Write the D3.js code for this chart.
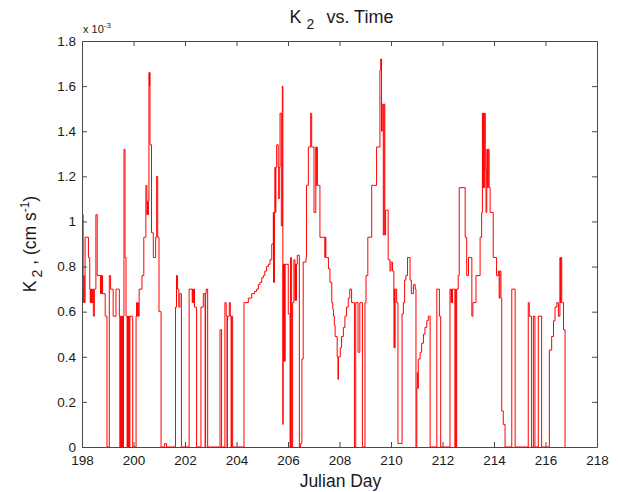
<!DOCTYPE html>
<html><head><meta charset="utf-8">
<script src="https://cdn.jsdelivr.net/npm/d3@7/dist/d3.min.js"></script>
<style>
body{margin:0;background:#fff}
text{font-family:"Liberation Sans",Arial,Helvetica,sans-serif;fill:#1a1a1a}
</style>
</head><body>
<svg id="chart" width="618" height="492"></svg>
<script>
// Julian day of each step
const timeDays = [
198.00,198.01,198.02,198.03,198.04,198.05,198.07,198.09,198.12,198.25,
198.30,198.32,198.34,198.36,198.38,198.40,198.42,198.44,198.48,198.54,
198.59,198.72,198.74,198.76,198.78,198.80,198.90,198.97,199.06,199.11,
199.21,199.32,199.45,199.47,199.49,199.51,199.53,199.55,199.57,199.59,
199.61,199.63,199.67,199.71,199.75,199.77,199.79,199.81,199.84,199.86,
199.97,200.10,200.12,200.14,200.16,200.19,200.22,200.33,200.40,200.48,
200.52,200.54,200.56,200.58,200.60,200.62,200.63,200.64,200.70,200.77,
200.86,200.90,200.94,200.99,201.07,201.20,201.28,201.63,201.67,201.71,
201.76,201.80,201.86,202.16,202.28,202.30,202.32,202.34,202.37,202.45,
202.62,202.71,202.78,202.80,202.82,202.88,203.36,203.42,203.55,203.60,
203.63,203.65,203.72,203.76,203.79,203.81,203.85,204.29,204.46,204.59,
204.70,204.78,204.85,204.91,204.98,205.04,205.10,205.17,205.24,205.30,
205.37,205.43,205.44,205.45,205.46,205.47,205.49,205.51,205.53,205.56,
205.62,205.64,205.66,205.69,205.74,205.78,205.80,205.81,205.83,205.85,
205.87,205.89,206.01,206.08,206.10,206.14,206.18,206.23,206.27,206.29,
206.31,206.33,206.36,206.44,206.49,206.54,206.59,206.70,206.72,206.79,
206.88,206.92,207.01,207.08,207.10,207.12,207.14,207.17,207.24,207.43,
207.45,207.47,207.50,207.57,207.63,207.70,207.74,207.77,207.80,207.83,
207.91,207.94,207.96,208.03,208.08,208.15,208.21,208.27,208.34,208.40,
208.47,208.58,208.63,208.72,208.79,208.89,208.99,209.03,209.10,209.25,
209.38,209.44,209.57,209.60,209.63,209.66,209.70,209.73,209.76,209.79,
209.83,209.89,209.96,210.00,210.06,210.11,210.12,210.13,210.14,210.16,
210.22,210.27,210.43,210.48,210.53,210.58,210.64,210.74,210.79,210.87,
210.94,210.97,211.00,211.02,211.04,211.06,211.13,211.19,211.26,211.32,
211.39,211.45,211.52,211.78,211.88,211.93,212.29,212.33,212.35,212.37,
212.39,212.48,212.51,212.53,212.55,212.61,212.65,212.88,212.94,213.01,
213.14,213.18,213.30,213.46,213.52,213.55,213.57,213.59,213.61,213.64,
213.66,213.69,213.72,213.75,213.78,213.81,213.85,213.97,214.10,214.17,
214.20,214.23,214.27,214.30,214.36,214.43,214.69,214.82,215.33,215.37,
215.46,215.53,215.59,215.72,215.85,216.15,216.24,216.31,216.37,216.44,
216.50,216.56,216.58,216.60,216.63,216.70,216.76
];
// K2 values (x 10^-3 cm s^-1)
const k2Values = [
0.70,1.03,0.70,1.03,0.70,0.64,0.76,0.64,0.93,0.84,
0.70,0.64,0.70,0.64,0.70,0.64,0.70,0.58,0.70,1.03,
0.76,0.68,0.76,0.68,0.76,0.68,0.58,0,0.76,0.70,
0.58,0.70,0.58,0,0.58,0,0.58,0,0.58,0,
0.58,1.32,0.84,0.58,0,0.58,0,0.58,0,0.58,
0,0.58,0.64,0.58,0.64,0.58,0.70,0.76,0.93,1.16,
1.03,1.09,1.03,1.09,1.66,1.60,1.66,1.34,0.95,0.84,
0.93,1.20,0.93,0.60,0,0.015,0,0.62,0.76,0.70,
0.62,0.68,0,0.70,0.64,0.70,0.64,0.70,0.62,0,
0.62,0.68,0,0.68,0.70,0,0.52,0,0.64,0.58,
0,0.58,0.64,0.58,0,0.58,0,0.64,0.66,0.68,
0.69,0.70,0.72,0.73,0.75,0.76,0.78,0.80,0.81,0.83,
0.90,1.04,0.73,1.04,0.73,1.04,1.24,1.04,1.24,1.34,
1.24,1.10,1.24,1.48,0.98,1.60,0.10,0.81,0.38,0.81,
0.38,0.81,0.59,0,0.84,0,0.64,0.83,0.65,0.81,
0.65,0.81,0.85,0,0.015,0.39,0.82,0.84,1.16,1.33,
1.48,1.33,1.04,1.33,1.16,1.33,1.16,1.16,0.93,0.84,
0.93,0.84,0.84,0.79,0.73,0.64,0.61,0.58,0.54,0.49,
0.40,0.30,0.40,0.44,0.49,0.53,0.58,0.62,0.66,0.70,
0.64,0,0.64,0.42,0.64,0,0.64,0.76,0.93,1.16,
1.16,1.33,1.67,1.72,1.40,1.52,0.94,1.52,0.94,1.05,
1.05,0.83,0.78,0.82,0.78,0.64,0.44,0.70,0.44,0.70,
0.64,0.015,0.59,0.64,0.74,0.76,0.84,0.74,0.68,0.72,
0.70,0,0.26,0.33,0.26,0.39,0.42,0.46,0.50,0.53,
0.56,0.58,0,0.70,0.58,0,0.70,0.64,0.70,0.64,
0.70,0,0.70,0,0.70,0.76,1.15,0.93,0.76,0.84,
0.58,0.64,0.76,0.93,1.04,1.48,1.15,1.48,1.15,1.48,
1.23,1.04,1.32,1.15,1.32,1.15,1.04,0.84,0.76,0.78,
0.66,0.78,0.66,0.16,0.10,0,0.70,0,0.64,0.58,
0,0.58,0,0.58,0,0.43,0.49,0.56,0.62,0.64,
0.58,0.84,0.64,0.84,0.64,0.52,0
];
const xTickValues = [198,200,202,204,206,208,210,212,214,216,218];
const yTickValues = [0,0.2,0.4,0.6,0.8,1.0,1.2,1.4,1.6,1.8];
const yTickLabels = ["0","0.2","0.4","0.6","0.8","1","1.2","1.4","1.6","1.8"];

const W = 618, H = 492;
const plot = {left: 82, right: 597, top: 41, bottom: 447};
const svg = d3.select("#chart");

const x = d3.scaleLinear().domain([198, 218]).range([plot.left, plot.right]);
const y = d3.scaleLinear().domain([0, 1.8]).range([plot.bottom, plot.top]);

svg.append("rect").attr("width", W).attr("height", H).attr("fill", "#fff");
svg.append("rect").attr("x", plot.left).attr("y", plot.top)
  .attr("width", plot.right - plot.left).attr("height", plot.bottom - plot.top)
  .attr("fill", "#fff");

svg.append("defs").append("clipPath").attr("id", "clip")
  .append("rect").attr("x", plot.left).attr("y", plot.top - 1)
  .attr("width", plot.right - plot.left).attr("height", plot.bottom - plot.top + 1);

const pts = timeDays.map((d, i) => [d, k2Values[i]]);
const line = d3.line().x(d => x(d[0])).y(d => y(d[1])).curve(d3.curveStepAfter);
svg.append("path").datum(pts)
  .attr("clip-path", "url(#clip)")
  .attr("fill", "none").attr("stroke", "#ff0000").attr("stroke-width", 1)
  .attr("d", line);

const axisColor = "#4a4a4a";
function styleAxis(g) {
  g.selectAll("path.domain").attr("stroke", axisColor).attr("stroke-width", 1);
  g.selectAll(".tick line").attr("stroke", axisColor);
  g.selectAll(".tick text").attr("fill", "#1a1a1a")
    .style("font-family", '"Liberation Sans",Arial,sans-serif').style("font-size", "13.5px");
}
const gx = svg.append("g").attr("transform", `translate(0,${plot.bottom})`)
  .call(d3.axisBottom(x).tickValues(xTickValues).tickFormat(d3.format("d"))
        .tickSizeInner(-5).tickSizeOuter(0).tickPadding(8));
styleAxis(gx);
const gxt = svg.append("g").attr("transform", `translate(0,${plot.top})`)
  .call(d3.axisTop(x).tickValues(xTickValues).tickFormat("").tickSizeInner(-5).tickSizeOuter(0));
styleAxis(gxt);
const gy = svg.append("g").attr("transform", `translate(${plot.left},0)`)
  .call(d3.axisLeft(y).tickValues(yTickValues).tickFormat((d, i) => yTickLabels[i])
        .tickSizeInner(-5).tickSizeOuter(0).tickPadding(6));
styleAxis(gy);
const gyr = svg.append("g").attr("transform", `translate(${plot.right},0)`)
  .call(d3.axisRight(y).tickValues(yTickValues).tickFormat("").tickSizeInner(-5).tickSizeOuter(0));
styleAxis(gyr);

// exponent label
const ex = svg.append("text").attr("x", plot.left + 1).attr("y", 33).style("font-size", "11px");
ex.append("tspan").text("x 10");
ex.append("tspan").attr("dy", -5).style("font-size", "8px").text("-3");

// title
const t = svg.append("text").attr("x", (plot.left + plot.right) / 2 + 2).attr("y", 23)
  .attr("text-anchor", "middle").style("font-size", "18px");
t.append("tspan").text("K");
t.append("tspan").attr("dy", 6).attr("dx", 5).style("font-size", "14px").text("2");
t.append("tspan").attr("dy", -6).attr("dx", 12).text("vs. Time");

// x label
svg.append("text").attr("x", (plot.left + plot.right) / 2 + 1).attr("y", 487)
  .attr("text-anchor", "middle").style("font-size", "17.5px").text("Julian Day");

// y label
const yl = svg.append("text")
  .attr("transform", `translate(36,${(plot.top + plot.bottom) / 2}) rotate(-90)`)
  .attr("text-anchor", "middle").style("font-size", "17.5px");
yl.append("tspan").text("K");
yl.append("tspan").attr("dy", 6).attr("dx", 3).style("font-size", "14px").text("2");
yl.append("tspan").attr("dy", -6).text(" , (cm s");
yl.append("tspan").attr("dy", -7).style("font-size", "12px").text("-1");
yl.append("tspan").attr("dy", 7).text(")");
</script>
</body></html>
